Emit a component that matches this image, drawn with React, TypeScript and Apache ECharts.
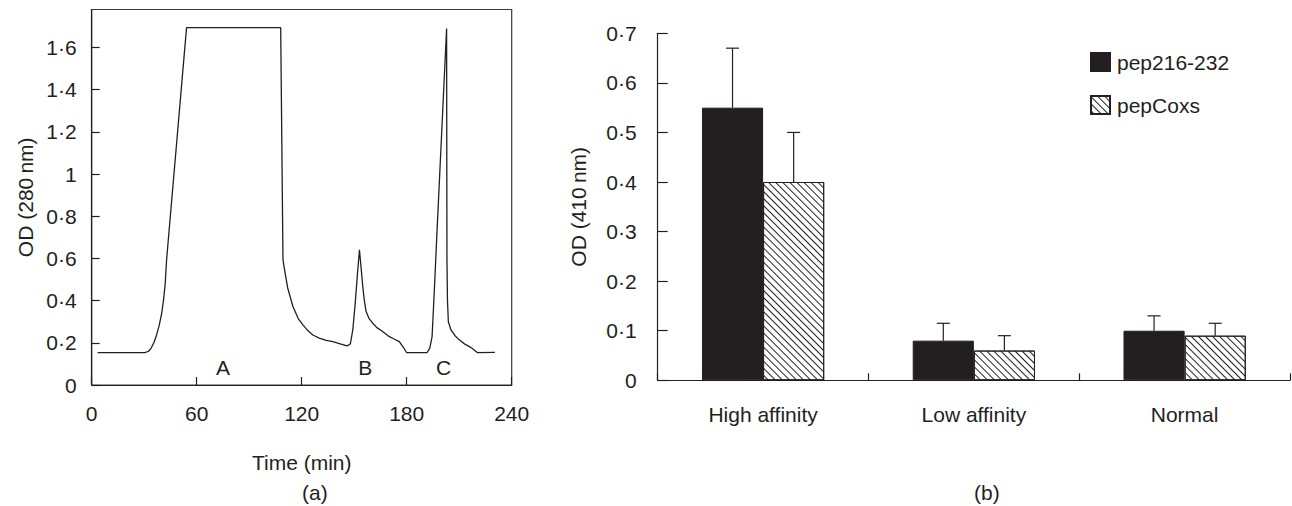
import React, { useEffect, useRef } from "react";
import * as echarts from "echarts";

// ---- Panel (a): elution profile ----
const timeA = [3.4, 30.4, 32.5, 34, 35.5, 37, 38.5, 40, 41, 42, 42.8, 54.2, 108, 109.3, 110.2, 112, 115, 118, 120.7, 123.5, 126.4, 130, 134, 137.8, 142, 146, 147.8, 149.2, 150.5, 151.8, 153, 153.9, 154.9, 155.8, 156.8, 158.5, 160.6, 163, 165.4, 167.5, 170.1, 173, 175.8, 178, 180, 191.6, 193.2, 194.5, 195.8, 197.1, 202.8, 203.0, 203.3, 203.8, 205.3, 207.5, 210, 213, 215.8, 217.3, 220.5, 230.4];
const odA = [0.153, 0.153, 0.16, 0.175, 0.2, 0.235, 0.28, 0.34, 0.40, 0.48, 0.594, 1.694, 1.694, 0.594, 0.546, 0.46, 0.372, 0.315, 0.285, 0.258, 0.237, 0.222, 0.212, 0.206, 0.195, 0.185, 0.195, 0.261, 0.38, 0.52, 0.641, 0.56, 0.467, 0.40, 0.348, 0.315, 0.293, 0.272, 0.258, 0.245, 0.229, 0.217, 0.206, 0.18, 0.153, 0.153, 0.175, 0.229, 0.45, 0.688, 1.69, 0.6, 0.4, 0.3, 0.261, 0.235, 0.214, 0.195, 0.182, 0.174, 0.153, 0.155];
const xTicksA = [0, 60, 120, 180, 240];
const yTicksA = [0, 0.2, 0.4, 0.6, 0.8, 1, 1.2, 1.4, 1.6];
const peakNames = ["A", "B", "C"];
const peakTimes = [75, 156.3, 201.1];
const peakLabelOD = 0.081;

// ---- Panel (b): ELISA ----
const categories = ["High affinity", "Low affinity", "Normal"];
const seriesNames = ["pep216-232", "pepCoxs"];
const pep216 = [0.55, 0.08, 0.1];
const pep216Err = [0.12, 0.035, 0.03];
const pepCoxs = [0.4, 0.06, 0.09];
const pepCoxsErr = [0.1, 0.03, 0.025];

const INK = "#231f20";
const FONT = "'Liberation Sans', Arial, Helvetica, sans-serif";
const FS = 21;
const CAT_GAP = 0.42;

const fmtDot = (v: number) => {
  if (Math.abs(v - Math.round(v)) < 1e-9) return String(Math.round(v));
  return v.toFixed(1).replace(".", "\u00b7");
};

export default function App() {
  const ref = useRef<HTMLDivElement>(null);

  useEffect(() => {
    if (!ref.current) return;
    const chart = echarts.init(ref.current, null, { renderer: "svg" });

    const lineData = timeA.map((t, i) => [t, odA[i]]);
    const errData: number[][] = [];
    categories.forEach((_, i) => {
      errData.push([i, pep216[i] + pep216Err[i], pep216[i], 0]);
      errData.push([i, pepCoxs[i] + pepCoxsErr[i], pepCoxs[i], 1]);
    });

    const axisLine = { show: true, lineStyle: { color: INK, width: 1.2 } };
    const labelStyle = { color: INK, fontSize: FS, fontFamily: FONT };

    chart.setOption({
      animation: false,
      backgroundColor: "#fff",
      textStyle: { fontFamily: FONT, color: INK },
      grid: [
        { left: 91.7, right: 780.3, top: 9.5, bottom: 121, show: true, borderColor: "#3a3a3a", borderWidth: 1.2, backgroundColor: "transparent" },
        { left: 657.7, right: 2, top: 33.3, bottom: 125.7 },
      ],
      legend: {
        data: seriesNames,
        orient: "vertical",
        left: 1085,
        top: 46.5,
        itemWidth: 19,
        itemHeight: 18,
        itemGap: 22,
        icon: "rect",
        textStyle: { ...labelStyle, padding: [0, 0, 0, 2] },
      },
      xAxis: [
        {
          gridIndex: 0,
          type: "value",
          min: 0,
          max: 240,
          interval: 60,
          axisLine,
          axisTick: { show: true, inside: true, length: 8, lineStyle: { color: INK, width: 1.2 }, customValues: xTicksA },
          axisLabel: { ...labelStyle, margin: 17.5, customValues: xTicksA },
          splitLine: { show: false },
          name: "Time (min)",
          nameLocation: "middle",
          nameGap: 66.5,
          nameTextStyle: labelStyle,
        },
        {
          gridIndex: 1,
          type: "category",
          data: categories,
          axisLine,
          axisTick: { show: true, inside: true, length: 7, alignWithLabel: false, lineStyle: { color: INK, width: 1.2 } },
          axisLabel: { ...labelStyle, margin: 23.5 },
          splitLine: { show: false },
        },
      ],
      yAxis: [
        {
          gridIndex: 0,
          type: "value",
          min: 0,
          max: 1.78,
          axisLine,
          axisTick: { show: true, inside: true, length: 8, lineStyle: { color: INK, width: 1.2 }, customValues: yTicksA },
          axisLabel: { ...labelStyle, margin: 15, formatter: (v: number) => fmtDot(v), customValues: yTicksA },
          splitLine: { show: false },
          name: "OD (280\u2009nm)",
          nameLocation: "middle",
          nameGap: 56,
          nameTextStyle: labelStyle,
        },
        {
          gridIndex: 1,
          type: "value",
          min: 0,
          max: 0.7,
          interval: 0.1,
          axisLine,
          axisTick: { show: true, inside: true, length: 10, lineStyle: { color: INK, width: 1.2 } },
          axisLabel: { ...labelStyle, margin: 21, formatter: (v: number) => fmtDot(v) },
          splitLine: { show: false },
          name: "OD (410\u2009nm)",
          nameLocation: "middle",
          nameGap: 69,
          nameTextStyle: labelStyle,
        },
      ],
      series: [
        {
          type: "line",
          xAxisIndex: 0,
          yAxisIndex: 0,
          data: lineData,
          showSymbol: false,
          symbol: "none",
          lineStyle: { color: INK, width: 1.3 },
          itemStyle: { color: INK },
          markPoint: {
            symbol: "circle",
            symbolSize: 1,
            itemStyle: { color: "rgba(0,0,0,0)" },
            label: { show: true, position: "inside", formatter: (p: any) => p.name, ...labelStyle },
            data: peakNames.map((n, i) => ({ name: n, coord: [peakTimes[i], peakLabelOD] })),
          },
        },
        {
          name: seriesNames[0],
          type: "bar",
          xAxisIndex: 1,
          yAxisIndex: 1,
          data: pep216,
          barGap: "0%",
          barCategoryGap: CAT_GAP * 100 + "%",
          itemStyle: { color: INK, borderColor: INK, borderWidth: 1 },
        },
        {
          name: seriesNames[1],
          type: "bar",
          xAxisIndex: 1,
          yAxisIndex: 1,
          data: pepCoxs,
          barGap: "0%",
          barCategoryGap: CAT_GAP * 100 + "%",
          itemStyle: {
            color: "#ffffff",
            borderColor: INK,
            borderWidth: 1,
            decal: {
              symbol: "rect",
              symbolSize: 1,
              color: INK,
              backgroundColor: "#ffffff",
              dashArrayX: [1, 0],
              dashArrayY: [1, 3.2],
              rotation: Math.PI / 4,
            },
          },
        },
        {
          type: "custom",
          xAxisIndex: 1,
          yAxisIndex: 1,
          z: 5,
          data: errData,
          encode: { x: 0, y: 1 },
          renderItem: (params: any, api: any) => {
            const cat = api.value(0);
            const top = api.value(1);
            const base = api.value(2);
            const s = api.value(3);
            const pBase = api.coord([cat, base]);
            const pTop = api.coord([cat, top]);
            const band = api.size([1, 0])[0];
            const barW = (band * (1 - CAT_GAP)) / 2;
            const x = pBase[0] + (s === 0 ? -barW / 2 : barW / 2);
            const st = { stroke: INK, lineWidth: 1.2 };
            return {
              type: "group",
              children: [
                { type: "line", shape: { x1: x, y1: pBase[1], x2: x, y2: pTop[1] }, style: st },
                { type: "line", shape: { x1: x - 6.5, y1: pTop[1], x2: x + 6.5, y2: pTop[1] }, style: st },
              ],
            };
          },
        },
      ],
      graphic: [
        { type: "text", left: 302, top: 482, style: { text: "(a)", fill: INK, font: `${FS}px ${FONT}`, textAlign: "center" } },
        { type: "text", left: 974, top: 482, style: { text: "(b)", fill: INK, font: `${FS}px ${FONT}`, textAlign: "center" } },
      ],
    });

    return () => chart.dispose();
  }, []);

  return <div ref={ref} style={{ position: "fixed", left: 0, top: 0, width: 1292, height: 506 }} />;
}
